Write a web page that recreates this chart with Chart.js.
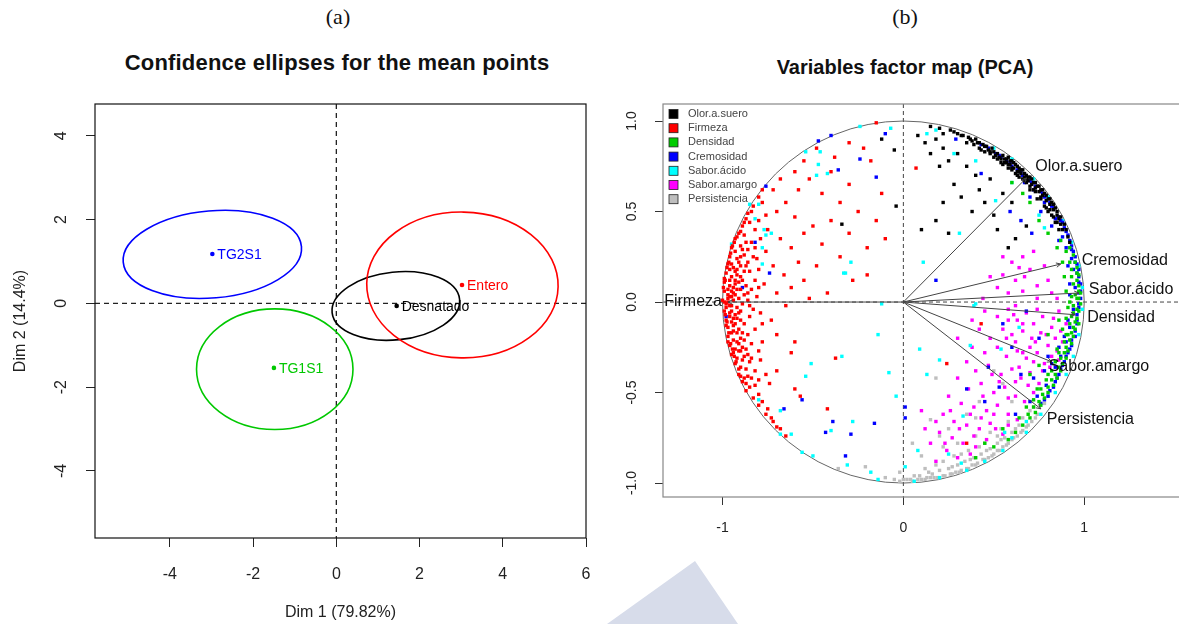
<!DOCTYPE html>
<html>
<head>
<meta charset="utf-8">
<script src="https://cdn.jsdelivr.net/npm/chart.js@4.4.1/dist/chart.umd.min.js"></script>
<style>
  html, body { margin: 0; padding: 0; background: #fff; }
  body { width: 1179px; height: 624px; overflow: hidden; position: relative; }
  .tag   { position: absolute; top: 4px; font: 22px "Liberation Serif", "Times New Roman", serif; color: #111; transform: translateX(-50%); }
  .title { position: absolute; font: bold 22px "Liberation Sans", Arial, sans-serif; color: #111; transform: translateX(-50%); white-space: nowrap; }
  canvas { position: absolute; top: 0; }
  #mark  { position: absolute; left: 0; top: 0; }
</style>
</head>
<body>
<div class="tag" style="left:338px">(a)</div>
<div class="title" style="left:337px; top:50px; letter-spacing:0.2px">Confidence ellipses for the mean points</div>
<div class="tag" style="left:905px">(b)</div>
<div class="title" style="left:905px; top:56px; font-size:20px">Variables factor map (PCA)</div>
<canvas id="ellipseChart" width="600" height="624" style="left:0"></canvas>
<canvas id="varChart" width="600" height="624" style="left:600px"></canvas>
<svg id="mark" width="1179" height="624"><polygon points="607,624 695,561 738,624" fill="#d7dcea"/></svg>
<script>
// ---- (a) group means and their confidence ellipses ----
const groups     = ['TG2S1', 'TG1S1', 'Desnatado', 'Entero'];
const meanDim1   = [-2.98, -1.50, 1.45, 3.02];
const meanDim2   = [1.18, -1.54, -0.06, 0.44];
const ellCentreX = [-2.98, -1.48, 1.43, 3.03];
const ellCentreY = [1.17, -1.57, -0.06, 0.44];
const ellRadiusX = [2.15, 1.88, 1.54, 2.30];
const ellRadiusY = [1.04, 1.44, 0.81, 1.74];
const ellTilt    = [5, 0, 6, -1];   // degrees
const dim1Ticks  = [-4, -2, 0, 2, 4, 6];
const dim2Ticks  = [-4, -2, 0, 2, 4];

// ---- (b) correlation circle ----
const varNames = ['Olor.a.suero', 'Firmeza', 'Densidad', 'Cremosidad', 'Sabor.ácido', 'Sabor.amargo', 'Persistencia'];
const varDim1  = [0.68, -0.97, 0.95, 0.87, 0.97, 0.82, 0.76];
const varDim2  = [0.685, 0.00, -0.07, 0.21, 0.05, -0.33, -0.59];
const corTicksX = [-1, 0, 1];
const corTicksY = [-1, -0.5, 0, 0.5, 1];

// supplementary points per variable, as x,y pairs
const olorPts = [
  0.26,0.95, 0.30,0.93, 0.33,0.92, 0.36,0.91, 0.38,0.89, 0.40,0.90, 0.42,0.88, 0.44,0.87, 0.46,0.86, 0.47,0.84,
  0.49,0.85, 0.50,0.83, 0.52,0.82, 0.53,0.80, 0.55,0.81, 0.56,0.79, 0.57,0.77, 0.58,0.80, 0.59,0.76, 0.60,0.78,
  0.61,0.74, 0.62,0.76, 0.63,0.72, 0.64,0.74, 0.65,0.71, 0.66,0.73, 0.67,0.69, 0.68,0.70, 0.69,0.67, 0.70,0.69,
  0.71,0.65, 0.72,0.66, 0.73,0.63, 0.74,0.64, 0.75,0.61, 0.76,0.62, 0.77,0.59, 0.78,0.60, 0.79,0.56, 0.80,0.57,
  0.81,0.54, 0.82,0.55, 0.83,0.51, 0.84,0.52, 0.85,0.48, 0.86,0.46, 0.87,0.43, 0.88,0.40, 0.55,0.76, 0.60,0.73,
  0.64,0.69, 0.68,0.66, 0.72,0.62, 0.76,0.58, 0.79,0.52, 0.82,0.48, 0.70,0.62, 0.66,0.68, 0.62,0.71, 0.58,0.74,
  0.45,0.83, 0.50,0.80, 0.42,0.85, 0.35,0.88, 0.74,0.57, 0.80,0.50, 0.84,0.44, 0.86,0.40,
  0.28,0.94, 0.32,0.92, 0.37,0.90, 0.41,0.88, 0.45,0.86, 0.48,0.83, 0.51,0.81, 0.54,0.79, 0.57,0.79, 0.59,0.78,
  0.61,0.77, 0.63,0.75, 0.65,0.73, 0.67,0.71, 0.69,0.69, 0.71,0.68, 0.73,0.66, 0.75,0.64, 0.77,0.62, 0.79,0.59,
  0.81,0.57, 0.83,0.54, 0.85,0.50, 0.87,0.47, 0.89,0.43, 0.90,0.40, 0.91,0.36, 0.92,0.33, 0.52,0.79, 0.56,0.77,
  0.60,0.74, 0.63,0.70, 0.67,0.67, 0.70,0.64, 0.73,0.61, 0.76,0.57, 0.78,0.53, 0.81,0.51, 0.83,0.47, 0.85,0.44,
  0.64,0.72, 0.68,0.68, 0.58,0.76, 0.54,0.77, 0.48,0.82, 0.43,0.84, 0.39,0.87, 0.20,0.96, 0.15,0.97, 0.22,0.93,
  0.08,0.92, 0.12,0.88, 0.15,0.82, 0.18,0.90, 0.22,0.85, 0.25,0.78, 0.20,0.75, 0.30,0.82, 0.35,0.75, 0.40,0.70,
  0.28,0.65, 0.32,0.58, 0.42,0.62, 0.48,0.68, 0.45,0.55, 0.38,0.50, 0.50,0.48, 0.22,0.55, 0.18,0.45, 0.10,0.40,
  0.25,0.38, 0.55,0.60, 0.60,0.55, 0.52,0.40, 0.58,0.30, 0.62,0.35, 0.68,0.42, -0.05,0.84, -0.04,0.53, -0.34,0.43,
  -0.12,0.90
];
const firmezaPts = [
  -0.95,0.30, -0.93,0.28, -0.90,0.31, -0.96,0.25, -0.92,0.24, -0.88,0.26, -0.97,0.21, -0.94,0.19, -0.90,0.20, -0.86,0.22,
  -0.98,0.16, -0.95,0.14, -0.92,0.15, -0.89,0.12, -0.99,0.11, -0.96,0.09, -0.93,0.10, -0.90,0.07, -0.99,0.06, -0.97,0.04,
  -0.94,0.05, -0.91,0.02, -0.88,0.04, -1.00,0.01, -0.98,-0.01, -0.95,-0.02, -0.92,-0.03, -0.89,-0.01, -0.86,0.01, -0.99,-0.05,
  -0.96,-0.06, -0.93,-0.07, -0.90,-0.05, -0.98,-0.10, -0.95,-0.11, -0.92,-0.09, -0.88,-0.12, -0.97,-0.14, -0.94,-0.16, -0.91,-0.15,
  -0.97,-0.19, -0.94,-0.21, -0.90,-0.20, -0.96,-0.24, -0.93,-0.26, -0.89,-0.25, -0.95,-0.29, -0.92,-0.31, -0.88,-0.30, -0.93,-0.34,
  -0.90,-0.36, -0.91,-0.40, -0.88,-0.42, -0.89,-0.44, -0.85,-0.47, -0.87,-0.49, -0.83,-0.53, -0.80,-0.57, -0.76,-0.62, -0.72,-0.66,
  -0.70,-0.69, -0.93,0.35, -0.91,0.38, -0.89,0.42, -0.87,0.46, -0.84,0.50, -0.85,0.44, -0.88,0.37, -0.82,0.40, -0.80,0.45,
  -0.84,0.33, -0.86,0.29, -0.83,0.25, -0.85,0.17, -0.82,0.12, -0.84,0.07, -0.81,0.03, -0.83,-0.04, -0.85,-0.08, -0.82,-0.15,
  -0.86,-0.18, -0.84,-0.23, -0.80,-0.27, -0.85,-0.33, -0.82,-0.38, -0.99,0.00, -0.98,-0.03, -0.97,0.07, -0.96,-0.08, -0.99,0.13,
  -0.98,-0.13, -0.97,0.02, -0.95,0.03, -0.96,0.12, -0.95,-0.17, -0.97,-0.22, -0.93,0.17, -0.94,-0.13, -0.96,0.18, -0.95,0.21,
  -0.92,-0.22, -0.94,-0.28, -0.91,-0.27,
  -0.995,0.08, -0.985,0.12, -0.975,0.19, -0.965,0.22, -0.955,0.27, -0.945,0.31, -0.935,0.33, -0.92,0.36, -0.90,0.39, -0.88,0.44,
  -0.985,-0.07, -0.975,-0.11, -0.965,-0.17, -0.955,-0.23, -0.945,-0.26, -0.935,-0.30, -0.925,-0.33, -0.91,-0.37, -0.90,-0.41, -0.87,-0.45,
  -0.97,0.00, -0.96,0.03, -0.95,0.06, -0.94,0.08, -0.93,0.12, -0.92,0.18, -0.91,0.22, -0.90,0.25, -0.89,0.29, -0.87,0.33,
  -0.96,-0.02, -0.95,-0.05, -0.94,-0.09, -0.93,-0.12, -0.92,-0.17, -0.91,-0.23, -0.90,-0.27, -0.89,-0.32, -0.87,-0.37, -0.86,-0.41,
  -0.94,0.01, -0.93,0.04, -0.92,0.07, -0.91,0.11, -0.90,0.14, -0.88,0.17, -0.87,0.20, -0.87,0.09, -0.86,0.05, -0.85,-0.02,
  -0.91,-0.06, -0.90,-0.10, -0.89,-0.17, -0.88,-0.21, -0.87,-0.26, -0.86,-0.29, -0.84,-0.31, -0.84,-0.42, -0.82,-0.46, -0.80,-0.51,
  -0.78,-0.55, -0.75,-0.59, -0.73,-0.64, -0.68,-0.70, -0.65,-0.74, -0.86,0.49, -0.83,0.53, -0.80,0.58, -0.78,0.62, -0.76,0.48,
  -0.79,0.35, -0.81,0.24, -0.80,0.08, -0.79,-0.06, -0.78,-0.12, -0.79,-0.32, -0.76,-0.40, -0.80,-0.43,
  -0.78,0.55, -0.72,0.62, -0.70,0.50, -0.65,0.55, -0.60,0.47, -0.75,0.40, -0.68,0.35, -0.62,0.30, -0.55,0.38, -0.50,0.42,
  -0.58,0.22, -0.72,0.20, -0.66,0.15, -0.77,0.10, -0.70,0.05, -0.62,0.08, -0.55,0.12, -0.48,0.20, -0.45,0.32, -0.40,0.45,
  -0.35,0.55, -0.45,0.60, -0.52,0.68, -0.60,0.72, -0.55,0.78, -0.40,0.72, -0.30,0.65, -0.25,0.50, -0.30,0.38, -0.20,0.30,
  -0.15,0.45, -0.35,0.25, -0.28,0.12, -0.42,0.05, -0.52,0.02, -0.65,-0.02, -0.30,0.88, -0.22,0.85, -0.18,0.78, -0.12,0.60,
  -0.10,0.35, -0.20,0.15, -0.48,0.85, -0.38,0.80, -0.58,0.62, -0.68,0.68, -0.82,0.30, -0.76,0.28, -0.80,0.18, -0.73,-0.10,
  -0.70,-0.18, -0.78,-0.22, -0.62,-0.28, -0.70,-0.38, -0.74,-0.45, -0.375,-0.31, -0.42,-0.59, -0.60,-0.48, -0.57,-0.52, -0.60,-0.22,
  -0.15,0.99, 0.07,0.74, 0.43,-0.12, 0.24,-0.34, 0.35,-0.78
];
const densidadPts = [
  0.92,0.30, 0.94,0.26, 0.95,0.22, 0.96,0.19, 0.97,0.15, 0.96,0.12, 0.97,0.09, 0.98,0.05, 0.97,0.02, 0.98,-0.01,
  0.97,-0.05, 0.96,-0.09, 0.97,-0.12, 0.95,-0.15, 0.94,-0.19, 0.93,-0.23, 0.91,-0.27, 0.90,-0.31, 0.88,-0.34, 0.87,-0.38,
  0.85,-0.42, 0.83,-0.46, 0.80,-0.50, 0.78,-0.53, 0.76,-0.57, 0.73,-0.61, 0.70,-0.64, 0.66,-0.68, 0.93,0.18, 0.94,0.10,
  0.95,0.04, 0.94,-0.02, 0.93,-0.08, 0.92,-0.12, 0.91,-0.18, 0.89,-0.22, 0.86,-0.28, 0.84,-0.33, 0.82,-0.38, 0.79,-0.43,
  0.76,-0.48, 0.72,-0.54, 0.68,-0.58, 0.90,0.06, 0.91,-0.03, 0.89,0.14, 0.88,0.22, 0.85,0.30, 0.80,0.38, 0.75,0.45,
  0.70,0.55, 0.66,0.60, 0.60,0.66, 0.62,-0.72, 0.58,-0.76, 0.55,-0.70, 0.50,-0.80, 0.45,-0.78, 0.40,-0.86, 0.75,-0.35,
  0.80,-0.18, 0.86,-0.10, 0.70,-0.40, 0.92,0.00, 0.90,-0.09, 0.88,-0.15,
  0.96,0.16, 0.97,0.06, 0.96,0.02, 0.96,-0.04, 0.95,-0.11, 0.94,-0.14, 0.93,-0.17, 0.92,-0.21, 0.90,-0.25, 0.89,-0.28,
  0.87,-0.31, 0.86,-0.36, 0.84,-0.40, 0.82,-0.43, 0.80,-0.47, 0.77,-0.51, 0.75,-0.55, 0.72,-0.58, 0.69,-0.62, 0.93,0.14,
  0.92,0.22, 0.90,0.28, 0.87,0.34, 0.94,-0.06, 0.93,0.03, 0.90,-0.18, 0.85,-0.26, 0.80,-0.40, 0.74,-0.48, 0.64,-0.64
];
const cremosidadPts = [
  0.43,0.87, 0.47,0.85, 0.51,0.82, 0.54,0.80, 0.57,0.78, 0.60,0.75, 0.63,0.73, 0.66,0.70, 0.70,0.67, 0.73,0.64,
  0.76,0.61, 0.78,0.58, 0.81,0.55, 0.83,0.52, 0.86,0.47, 0.88,0.44, 0.89,0.41, 0.91,0.37, 0.92,0.34, 0.93,0.31,
  0.94,0.28, 0.95,0.25, 0.96,0.21, 0.97,0.18, 0.97,0.14, 0.98,0.10, 0.98,0.06, 0.98,0.02, 0.97,-0.03, 0.96,-0.07,
  0.96,-0.12, 0.95,-0.16, 0.93,-0.21, 0.92,-0.26, 0.90,-0.30, 0.88,-0.35, 0.86,-0.40, 0.84,-0.44, 0.81,-0.49, 0.78,-0.54,
  0.93,0.24, 0.94,0.18, 0.95,0.08, 0.94,-0.04, 0.92,-0.14, 0.90,-0.22, 0.87,-0.30, 0.84,-0.36, 0.90,0.30, 0.88,0.36,
  0.84,0.46, 0.78,0.55, 0.72,0.62, 0.67,0.66, 0.80,-0.30, 0.78,-0.38,
  0.45,0.86, 0.53,0.81, 0.59,0.77, 0.65,0.72, 0.71,0.66, 0.77,0.60, 0.82,0.53, 0.87,0.45, 0.90,0.39, 0.93,0.29,
  0.95,0.22, 0.96,0.16, 0.97,0.11, 0.97,0.05, 0.97,-0.01, 0.96,-0.10, 0.95,-0.19, 0.93,-0.24, 0.91,-0.28, 0.89,-0.33,
  0.87,-0.37, 0.85,-0.42, 0.83,-0.47, 0.80,-0.52, 0.76,-0.56, 0.91,0.20, 0.92,0.10, 0.92,0.04, 0.91,-0.10, 0.89,-0.19,
  0.86,-0.25, 0.82,-0.34, 0.79,-0.46, 0.74,-0.52, 0.86,0.34, 0.82,0.42, 0.76,0.50, 0.70,0.58,
  -0.47,0.89, -0.40,0.92, -0.36,0.73, -0.76,0.64, -0.82,0.33, -0.74,0.16, -0.89,0.08, -0.98,-0.08, -0.56,-0.54, -0.66,-0.59,
  -0.39,-0.66, -0.43,-0.72, -0.29,-0.73, -0.32,-0.85, -0.16,-0.67, 0.01,-0.58, 0.01,-0.64, 0.47,-0.36, 0.53,-0.47, 0.55,-0.12,
  0.18,0.12, -0.10,0.93, -0.15,0.69, -0.24,0.79, 0.29,0.90, 0.43,0.71, 0.65,0.45, 0.59,0.50, 0.71,0.38, 0.60,-0.25,
  0.65,-0.40, 0.70,-0.55, 0.62,-0.62, 0.72,-0.42, 0.75,-0.20, 0.68,-0.05, 0.45,-0.55, 0.35,-0.48
];
const acidoPts = [
  -0.54,0.83, -0.46,0.83, -0.47,0.76, -0.48,0.70, -0.42,0.71, -0.85,0.54, -0.80,0.54, -0.82,0.46, -0.77,0.40, -0.76,0.37,
  -0.73,0.38, -0.78,0.30, -0.95,0.32, -0.78,0.21, -0.33,0.16, -0.12,-0.01, -0.14,-0.18, -0.08,-0.39, -0.04,-0.52, -0.34,-0.30,
  -0.51,-0.34, -0.54,-0.41, -0.80,-0.54, -0.68,-0.60, -0.68,-0.73, -0.62,-0.73, -0.56,-0.83, -0.50,-0.85, -0.40,-0.71, -0.28,-0.66,
  -0.31,-0.90, -0.18,-0.94, -0.14,-0.98, 0.09,-0.26, 0.20,-0.32, 0.13,-0.40, 0.08,-0.82, 0.33,-0.63, 0.37,-0.24, 0.54,-0.26,
  0.64,-0.14, 0.39,-0.02, 0.25,-0.84, 0.32,-0.89, 0.01,-0.91, 0.56,-0.72, 0.60,-0.75, 0.68,-0.66, -0.24,0.97, -0.07,0.96,
  0.13,0.93, 0.18,0.95, 0.28,0.82, 0.40,0.78, 0.51,0.56, 0.60,0.66, 0.75,0.48, 0.78,0.41, 0.31,0.38, 0.11,0.22,
  -0.29,0.22, -0.32,0.16, 0.40,-0.01, 0.72,0.68, 0.80,0.58, 0.88,0.45, 0.93,0.33, 0.97,0.20, 0.99,0.08, 0.99,-0.04,
  0.97,-0.18, 0.94,-0.30, 0.90,-0.40, 0.84,-0.50, 0.76,-0.62, 0.68,-0.72, 0.55,-0.82, 0.45,-0.88, 0.35,-0.93, 0.20,-0.97,
  0.06,-0.99, 0.60,0.79, 0.50,0.85
];
const amargoPts = [
  0.60,0.22, 0.66,0.25, 0.72,0.28, 0.55,0.15, 0.62,0.12, 0.70,0.18, 0.78,0.20, 0.52,0.08, 0.58,0.05, 0.66,0.06,
  0.74,0.09, 0.80,0.12, 0.85,0.02, 0.45,-0.05, 0.52,-0.08, 0.58,-0.04, 0.63,-0.10, 0.68,-0.06, 0.72,-0.12, 0.77,-0.08,
  0.82,-0.14, 0.86,-0.05, 0.55,-0.15, 0.60,-0.18, 0.66,-0.16, 0.71,-0.20, 0.76,-0.17, 0.80,-0.24, 0.84,-0.20, 0.48,-0.20,
  0.42,-0.15, 0.38,-0.25, 0.45,-0.28, 0.52,-0.25, 0.57,-0.30, 0.63,-0.27, 0.68,-0.31, 0.74,-0.28, 0.78,-0.34, 0.82,-0.30,
  0.35,-0.33, 0.40,-0.38, 0.47,-0.35, 0.54,-0.40, 0.60,-0.37, 0.65,-0.42, 0.70,-0.39, 0.75,-0.45, 0.30,-0.42, 0.36,-0.48,
  0.43,-0.45, 0.50,-0.50, 0.56,-0.47, 0.62,-0.52, 0.67,-0.55, 0.72,-0.50, 0.25,-0.52, 0.32,-0.56, 0.39,-0.58, 0.46,-0.60,
  0.52,-0.57, 0.58,-0.62, 0.63,-0.65, 0.22,-0.62, 0.28,-0.66, 0.35,-0.68, 0.42,-0.70, 0.48,-0.67, 0.55,-0.73, 0.20,-0.72,
  0.27,-0.75, 0.33,-0.78, 0.40,-0.80, 0.46,-0.76, 0.15,-0.78, 0.24,-0.82, 0.30,-0.86, 0.37,-0.84, 0.18,-0.88, 0.12,-0.70,
  0.10,-0.60, 0.88,-0.22, 0.86,-0.32, 0.90,-0.12, 0.62,-0.02, 0.44,0.02, 0.38,-0.10, 0.30,-0.20, 0.55,0.25, 0.50,-0.62,
  0.70,-0.25, 0.64,-0.36, 0.58,-0.10,
  0.61,-0.07, 0.66,-0.12, 0.74,-0.04, 0.79,-0.18, 0.83,-0.09, 0.87,-0.16, 0.73,-0.22, 0.62,-0.22, 0.57,-0.20, 0.66,-0.28,
  0.72,-0.33, 0.77,-0.38, 0.81,-0.36, 0.85,-0.27, 0.69,-0.46, 0.62,-0.44, 0.58,-0.53, 0.53,-0.44, 0.49,-0.40, 0.44,-0.52,
  0.37,-0.62, 0.43,-0.64, 0.51,-0.70, 0.58,-0.68, 0.26,-0.60, 0.31,-0.70, 0.39,-0.74, 0.18,-0.66, 0.23,-0.78, 0.67,0.14,
  0.74,0.02, 0.48,0.14, 0.64,0.19, 0.82,0.05
];
const persistPts = [
  0.74,-0.62, 0.71,-0.66, 0.68,-0.69, 0.66,-0.71, 0.63,-0.74, 0.60,-0.76, 0.58,-0.78, 0.55,-0.80, 0.52,-0.82, 0.50,-0.84,
  0.47,-0.86, 0.44,-0.87, 0.41,-0.89, 0.38,-0.90, 0.35,-0.92, 0.32,-0.93, 0.29,-0.94, 0.26,-0.95, 0.22,-0.96, 0.19,-0.97,
  0.15,-0.97, 0.12,-0.98, 0.08,-0.98, 0.05,-0.99, 0.02,-0.98, -0.02,-0.99, -0.05,-0.98, 0.64,-0.68, 0.60,-0.72, 0.56,-0.75,
  0.52,-0.78, 0.48,-0.81, 0.43,-0.84, 0.39,-0.86, 0.34,-0.88, 0.30,-0.90, 0.25,-0.92, 0.20,-0.93, 0.14,-0.94, 0.09,-0.96,
  0.70,-0.60, 0.66,-0.64, 0.54,-0.70, 0.45,-0.78, 0.36,-0.82, 0.28,-0.85, 0.18,-0.90, 0.80,-0.52, 0.78,-0.56, 0.72,-0.58,
  0.58,-0.66, 0.40,-0.74, 0.30,-0.78, 0.22,-0.80, 0.48,-0.72, 0.60,-0.55, 0.35,-0.62, 0.42,-0.55, 0.25,-0.70, 0.55,-0.45,
  0.50,-0.38, 0.18,-0.42, -0.02,-0.94, -0.10,-0.97, -0.21,-0.91, -0.36,-0.92,
  0.73,-0.64, 0.69,-0.68, 0.65,-0.72, 0.61,-0.75, 0.57,-0.79, 0.53,-0.82, 0.49,-0.85, 0.45,-0.87, 0.40,-0.90, 0.36,-0.92,
  0.31,-0.94, 0.27,-0.95, 0.23,-0.96, 0.17,-0.97, 0.13,-0.97, 0.10,-0.98, 0.04,-0.98, 0.00,-0.98, 0.62,-0.70, 0.54,-0.76,
  0.46,-0.82, 0.37,-0.87, 0.27,-0.91, 0.16,-0.95, 0.06,-0.96, 0.12,-0.92, 0.22,-0.88, 0.32,-0.84, 0.42,-0.80, 0.52,-0.74,
  0.10,-0.85, 0.20,-0.74, 0.40,-0.64, 0.15,-0.65, 0.05,-0.78
];
const varPts = [olorPts, firmezaPts, densidadPts, cremosidadPts, acidoPts, amargoPts, persistPts];

const GROUP_COLORS = ['#0000ff', '#00c800', '#000000', '#ff0000'];
const VAR_COLORS   = ['#000000', '#ff0000', '#00cd00', '#0000ff', '#00ffff', '#ff00ff', '#bebebe'];
// label offsets from each arrow tip, px
const LABEL_NUDGE  = [[9, -11], [-6, 0], [12, 3], [21, -3], [10, -3], [-3, 5], [6, 11]];
const SANS = '"Liberation Sans", Arial, sans-serif';

const toXY = arr => {
  const out = [];
  for (let i = 0; i < arr.length; i += 2) out.push({ x: arr[i], y: arr[i + 1] });
  return out;
};

// R-style frame: box, dashed zero lines, tick labels (y ones rotated), axis titles
function rFrame(cfg) {
  return {
    id: 'rFrame',
    beforeDatasetsDraw(chart) {
      const { ctx, chartArea: a, scales: { x, y } } = chart;
      const x0 = x.getPixelForValue(0), y0 = y.getPixelForValue(0);
      ctx.save();
      ctx.strokeStyle = cfg.zeroColor;
      ctx.lineWidth = cfg.zeroWidth;
      ctx.setLineDash(cfg.zeroDash);
      ctx.beginPath();
      ctx.moveTo(x0, a.top);  ctx.lineTo(x0, a.bottom);
      ctx.moveTo(a.left, y0); ctx.lineTo(a.right, y0);
      ctx.stroke();
      ctx.restore();
    },
    afterDraw(chart) {
      const { ctx, chartArea: a, scales: { x, y } } = chart;
      ctx.save();
      ctx.strokeStyle = cfg.boxColor;
      ctx.lineWidth = 1.2;
      ctx.strokeRect(a.left, a.top, a.right - a.left, a.bottom - a.top);
      ctx.fillStyle = '#222';
      ctx.font = cfg.tickFont;
      ctx.textAlign = 'center';
      ctx.textBaseline = 'middle';
      x.ticks.forEach((t, i) => {
        ctx.fillText(String(t.value), x.getPixelForTick(i), cfg.xTickY);
      });
      y.ticks.forEach((t, i) => {
        ctx.save();
        ctx.translate(cfg.yTickX, y.getPixelForTick(i));
        ctx.rotate(-Math.PI / 2);
        ctx.fillText(t.value.toFixed(cfg.yDigits), 0, 0);
        ctx.restore();
      });
      ctx.font = cfg.titleFont;
      if (cfg.xTitle) ctx.fillText(cfg.xTitle, (a.left + a.right) / 2, cfg.xTitleY);
      if (cfg.yTitle) {
        ctx.translate(cfg.yTitleX, (a.top + a.bottom) / 2);
        ctx.rotate(-Math.PI / 2);
        ctx.fillText(cfg.yTitle, 0, 0);
      }
      ctx.restore();
    }
  };
}

const meanEllipses = {
  id: 'meanEllipses',
  afterDatasetsDraw(chart) {
    const { ctx, scales: { x, y } } = chart;
    const kx = x.getPixelForValue(1) - x.getPixelForValue(0);
    const ky = y.getPixelForValue(0) - y.getPixelForValue(1);
    groups.forEach((g, i) => {
      ctx.save();
      ctx.strokeStyle = GROUP_COLORS[i];
      ctx.lineWidth = 1.6;
      ctx.beginPath();
      ctx.ellipse(x.getPixelForValue(ellCentreX[i]), y.getPixelForValue(ellCentreY[i]),
                  ellRadiusX[i] * kx, ellRadiusY[i] * ky, -ellTilt[i] * Math.PI / 180, 0, 2 * Math.PI);
      ctx.stroke();
      ctx.fillStyle = GROUP_COLORS[i];
      ctx.font = '14px ' + SANS;
      ctx.textAlign = 'left';
      ctx.textBaseline = 'middle';
      ctx.fillText(g, x.getPixelForValue(meanDim1[i]) + 5, y.getPixelForValue(meanDim2[i]) + 1);
      ctx.restore();
    });
  }
};

const corCircle = {
  id: 'corCircle',
  beforeDatasetsDraw(chart) {
    const { ctx, scales: { x, y } } = chart;
    ctx.save();
    ctx.strokeStyle = '#666';
    ctx.lineWidth = 1;
    ctx.beginPath();
    ctx.ellipse(x.getPixelForValue(0), y.getPixelForValue(0),
                x.getPixelForValue(1) - x.getPixelForValue(0), y.getPixelForValue(0) - y.getPixelForValue(1),
                0, 0, 2 * Math.PI);
    ctx.stroke();
    ctx.restore();
  },
  afterDatasetsDraw(chart) {
    const { ctx, scales: { x, y } } = chart;
    const ox = x.getPixelForValue(0), oy = y.getPixelForValue(0);
    ctx.save();
    ctx.strokeStyle = '#444';
    ctx.lineWidth = 1;
    ctx.fillStyle = '#111';
    ctx.font = '16px ' + SANS;
    ctx.textBaseline = 'middle';
    varNames.forEach((name, i) => {
      const px = x.getPixelForValue(varDim1[i]), py = y.getPixelForValue(varDim2[i]);
      const ang = Math.atan2(py - oy, px - ox);
      ctx.beginPath();
      ctx.moveTo(ox, oy);
      ctx.lineTo(px, py);
      for (const s of [-1, 1]) {
        ctx.moveTo(px, py);
        ctx.lineTo(px - 5 * Math.cos(ang + s * 0.45), py - 5 * Math.sin(ang + s * 0.45));
      }
      ctx.stroke();
      const [dx, dy] = LABEL_NUDGE[i];
      ctx.textAlign = dx < 0 && varDim1[i] < 0 ? 'right' : 'left';
      ctx.fillText(name, px + dx, py + dy);
    });
    ctx.restore();
  },
  afterDraw(chart) {
    const { ctx, chartArea: a } = chart;
    ctx.save();
    ctx.font = '11px ' + SANS;
    ctx.textAlign = 'left';
    ctx.textBaseline = 'middle';
    chart.data.datasets.forEach((ds, i) => {
      const cy = a.top + 10 + i * 14.2;
      ctx.fillStyle = ds.backgroundColor;
      ctx.fillRect(a.left + 6, cy - 4.5, 9, 9);
      ctx.strokeStyle = '#222';
      ctx.lineWidth = 0.8;
      ctx.strokeRect(a.left + 6, cy - 4.5, 9, 9);
      ctx.fillStyle = '#444';
      ctx.fillText(ds.label, a.left + 25, cy);
    });
    ctx.restore();
  }
};

const fixedTicks = list => scale => { scale.ticks = list.map(v => ({ value: v })); };

new Chart(document.getElementById('ellipseChart'), {
  type: 'scatter',
  data: {
    datasets: groups.map((g, i) => ({
      label: g,
      data: [{ x: meanDim1[i], y: meanDim2[i] }],
      backgroundColor: GROUP_COLORS[i],
      borderWidth: 0,
      pointRadius: 2.3
    }))
  },
  options: {
    responsive: false, animation: false, events: [],
    layout: { padding: { top: 104, right: 14, left: 0, bottom: 0 } },
    plugins: { legend: { display: false }, tooltip: { enabled: false } },
    scales: {
      x: {
        min: -5.8, max: 6,
        afterBuildTicks: fixedTicks(dim1Ticks),
        afterFit: s => { s.height = 86; },
        grid: { drawOnChartArea: false, drawTicks: true, tickLength: 9, color: '#222' },
        border: { display: false },
        ticks: { display: false }
      },
      y: {
        min: -5.6, max: 4.76,
        afterBuildTicks: fixedTicks(dim2Ticks),
        afterFit: s => { s.width = 95; },
        grid: { drawOnChartArea: false, drawTicks: true, tickLength: 9, color: '#222' },
        border: { display: false },
        ticks: { display: false }
      }
    }
  },
  plugins: [rFrame({
    zeroColor: '#222', zeroWidth: 1.3, zeroDash: [5, 4], boxColor: '#111',
    tickFont: '16px ' + SANS, xTickY: 575, yTickX: 62, yDigits: 0,
    titleFont: '16px ' + SANS, xTitle: 'Dim 1 (79.82%)', xTitleY: 613,
    yTitle: 'Dim 2 (14.4%)', yTitleX: 21
  }), meanEllipses]
});

new Chart(document.getElementById('varChart'), {
  type: 'scatter',
  data: {
    datasets: varNames.map((n, i) => ({
      label: n,
      data: toXY(varPts[i]),
      backgroundColor: VAR_COLORS[i],
      borderWidth: 0,
      pointStyle: 'rect',
      pointRadius: 2.4
    }))
  },
  options: {
    responsive: false, animation: false, events: [],
    layout: { padding: { top: 104, right: 0, left: 0, bottom: 0 } },
    plugins: { legend: { display: false }, tooltip: { enabled: false } },
    scales: {
      x: {
        min: -1.329, max: 1.618,
        afterBuildTicks: fixedTicks(corTicksX),
        afterFit: s => { s.height = 127; },
        grid: { drawOnChartArea: false, drawTicks: true, tickLength: 8, color: '#333' },
        border: { display: false },
        ticks: { display: false }
      },
      y: {
        min: -1.077, max: 1.094,
        afterBuildTicks: fixedTicks(corTicksY),
        afterFit: s => { s.width = 63; },
        grid: { drawOnChartArea: false, drawTicks: true, tickLength: 8, color: '#333' },
        border: { display: false },
        ticks: { display: false }
      }
    }
  },
  plugins: [rFrame({
    zeroColor: '#444', zeroWidth: 1, zeroDash: [4, 3], boxColor: '#888',
    tickFont: '14px ' + SANS, xTickY: 528, yTickX: 32, yDigits: 1
  }), corCircle]
});
</script>
</body>
</html>
